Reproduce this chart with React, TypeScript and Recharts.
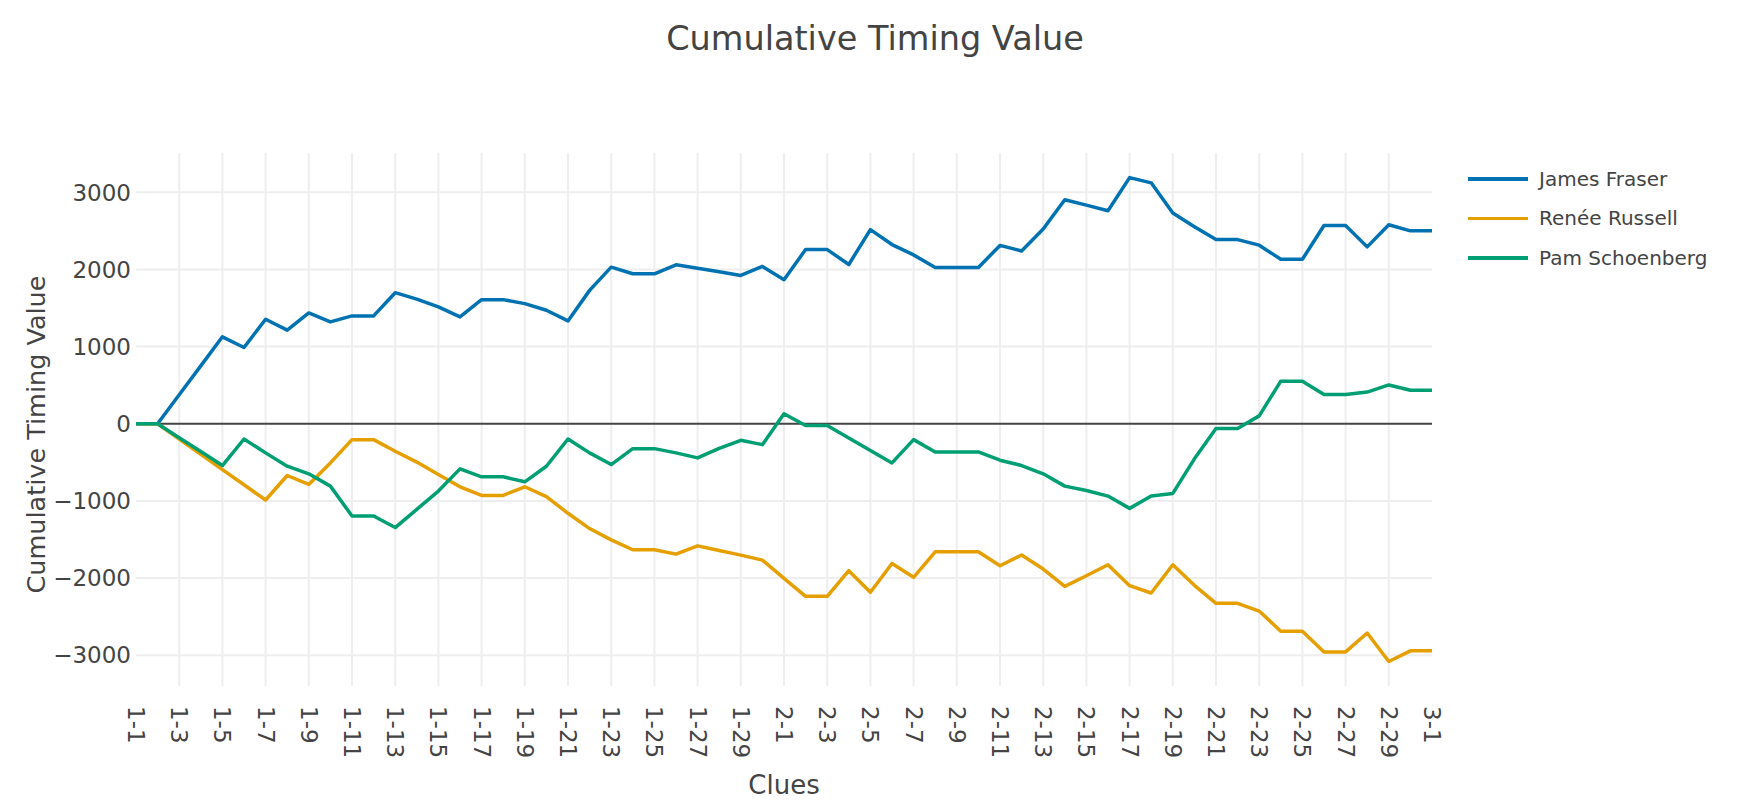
import React from 'react'
import { LineChart, Line, XAxis, YAxis, ReferenceLine, Legend } from 'recharts'

const FONT = '"DejaVu Sans", Verdana, sans-serif'
const TEXT = '#444444'
const GRID = '#eeeeee'

const clues = [
  '1-1', '1-2', '1-3', '1-4', '1-5', '1-6', '1-7', '1-8', '1-9', '1-10',
  '1-11', '1-12', '1-13', '1-14', '1-15', '1-16', '1-17', '1-18', '1-19', '1-20',
  '1-21', '1-22', '1-23', '1-24', '1-25', '1-26', '1-27', '1-28', '1-29', '1-30',
  '2-1', '2-2', '2-3', '2-4', '2-5', '2-6', '2-7', '2-8', '2-9', '2-10',
  '2-11', '2-12', '2-13', '2-14', '2-15', '2-16', '2-17', '2-18', '2-19', '2-20',
  '2-21', '2-22', '2-23', '2-24', '2-25', '2-26', '2-27', '2-28', '2-29', '2-30',
  '3-1',
]

const jamesFraser = [
  0, 0, 375, 750, 1127, 989, 1355, 1213, 1437, 1320,
  1398, 1398, 1699, 1615, 1514, 1385, 1609, 1609, 1557, 1471,
  1333, 1729, 2030, 1944, 1944, 2060, 2017, 1970, 1923, 2039,
  1867, 2258, 2258, 2065, 2516, 2323, 2189, 2026, 2026, 2026,
  2312, 2240, 2525, 2903, 2834, 2761, 3191, 3123, 2731, 2555,
  2387, 2387, 2315, 2132, 2132, 2570, 2570, 2293, 2580, 2501,
  2501,
]

const reneeRussell = [
  0, 0, -198, -396, -594, -791, -989, -671, -787, -508,
  -206, -206, -357, -497, -658, -817, -929, -929, -817, -946,
  -1161, -1359, -1505, -1634, -1634, -1690, -1583, -1643, -1703, -1768,
  -2004, -2237, -2237, -1905, -2185, -1811, -1991, -1660, -1660, -1660,
  -1841, -1701, -1884, -2108, -1970, -1828, -2099, -2194, -1828, -2095,
  -2328, -2328, -2428, -2690, -2690, -2958, -2958, -2713, -3083, -2944,
  -2944,
]

const pamSchoenberg = [
  0, 0, -181, -361, -542, -198, -378, -550, -649, -809,
  -1196, -1196, -1346, -1110, -873, -585, -688, -688, -753, -551,
  -198, -378, -529, -323, -323, -378, -443, -320, -215, -271,
  129, -22, -22, -185, -348, -508, -206, -366, -366, -366,
  -473, -542, -649, -809, -865, -938, -1097, -938, -903, -455,
  -62, -62, 102, 552, 552, 378, 378, 411, 503, 434,
  434,
]

const yTicks = [-3000, -2000, -1000, 0, 1000, 2000, 3000]

const series = [
  { key: 'james', name: 'James Fraser', color: '#0072B2' },
  { key: 'renee', name: 'Renée Russell', color: '#E69F00' },
  { key: 'pam', name: 'Pam Schoenberg', color: '#009E73' },
]

const data = clues.map((clue, i) => ({
  clue,
  james: jamesFraser[i],
  renee: reneeRussell[i],
  pam: pamSchoenberg[i],
}))

// labelled clues get a vertical grid line, except the two at the plot edges
const gridClues = clues.filter((_, i) => i % 2 === 0 && i > 0 && i < clues.length - 1)

const fmt = (v: number) => (v < 0 ? `\u2212${Math.abs(v)}` : `${v}`)

function XTick({ x, y, payload }: any) {
  return (
    <text
      x={x}
      y={y}
      transform={`rotate(90, ${x}, ${y})`}
      textAnchor="start"
      dominantBaseline="central"
      fontSize={23}
      fontFamily={FONT}
      fill={TEXT}
    >
      {payload.value}
    </text>
  )
}

function LegendBox() {
  return (
    <div style={{ fontFamily: FONT, fontSize: 20, color: TEXT }}>
      {series.map((s) => (
        <div key={s.key} style={{ display: 'flex', alignItems: 'center', height: 39.5, whiteSpace: 'nowrap' }}>
          <span style={{ display: 'inline-block', width: 60, height: 3.5, background: s.color, marginRight: 11 }} />
          {s.name}
        </div>
      ))}
    </div>
  )
}

export default function App() {
  return (
    <div style={{ position: 'absolute', left: 0, top: 0, width: 1750, height: 808, background: '#fff' }}>
      <div
        style={{
          position: 'absolute',
          top: 20,
          left: 0,
          width: 1750,
          textAlign: 'center',
          fontFamily: FONT,
          fontSize: 33.5,
          lineHeight: '38px',
          color: TEXT,
        }}
      >
        Cumulative Timing Value
      </div>
      <LineChart width={1750} height={808} data={data} margin={{ top: 153, right: 318, bottom: 0, left: 0 }}>
        <XAxis
          dataKey="clue"
          interval={1}
          height={122}
          tickSize={0}
          tickMargin={20}
          axisLine={false}
          tickLine={false}
          tick={<XTick />}
          label={{
            content: ({ viewBox }: any) => (
              <text
                x={viewBox.x + viewBox.width / 2}
                y={785}
                textAnchor="middle"
                dominantBaseline="central"
                fontSize={26}
                fontFamily={FONT}
                fill={TEXT}
              >
                Clues
              </text>
            ),
          }}
        />
        <YAxis
          width={136}
          domain={[-3400, 3510]}
          ticks={yTicks}
          tickFormatter={fmt}
          tickSize={0}
          tickMargin={5}
          axisLine={false}
          tickLine={false}
          tick={{ fontSize: 23, fontFamily: FONT, fill: TEXT }}
          label={{
            content: ({ viewBox }: any) => {
              const cy = viewBox.y + viewBox.height / 2 + 15
              return (
                <text
                  x={36}
                  y={cy}
                  transform={`rotate(-90, 36, ${cy})`}
                  textAnchor="middle"
                  dominantBaseline="central"
                  fontSize={25.5}
                  fontFamily={FONT}
                  fill={TEXT}
                >
                  Cumulative Timing Value
                </text>
              )
            },
          }}
        />
        {yTicks.filter((t) => t !== 0).map((t) => (
          <ReferenceLine key={`h${t}`} y={t} stroke={GRID} strokeWidth={2} />
        ))}
        {gridClues.map((c) => (
          <ReferenceLine key={`v${c}`} x={c} stroke={GRID} strokeWidth={2} />
        ))}
        <ReferenceLine y={0} stroke="#444444" strokeWidth={2} />
        {series.map((s) => (
          <Line
            key={s.key}
            type="linear"
            dataKey={s.key}
            name={s.name}
            stroke={s.color}
            strokeWidth={3.5}
            strokeLinejoin="round"
            dot={false}
            activeDot={false}
            isAnimationActive={false}
          />
        ))}
        <Legend
          layout="vertical"
          align="center"
          verticalAlign="middle"
          content={<LegendBox />}
          wrapperStyle={{ left: 1468, top: 159, width: 'auto', height: 'auto' }}
        />
      </LineChart>
    </div>
  )
}
